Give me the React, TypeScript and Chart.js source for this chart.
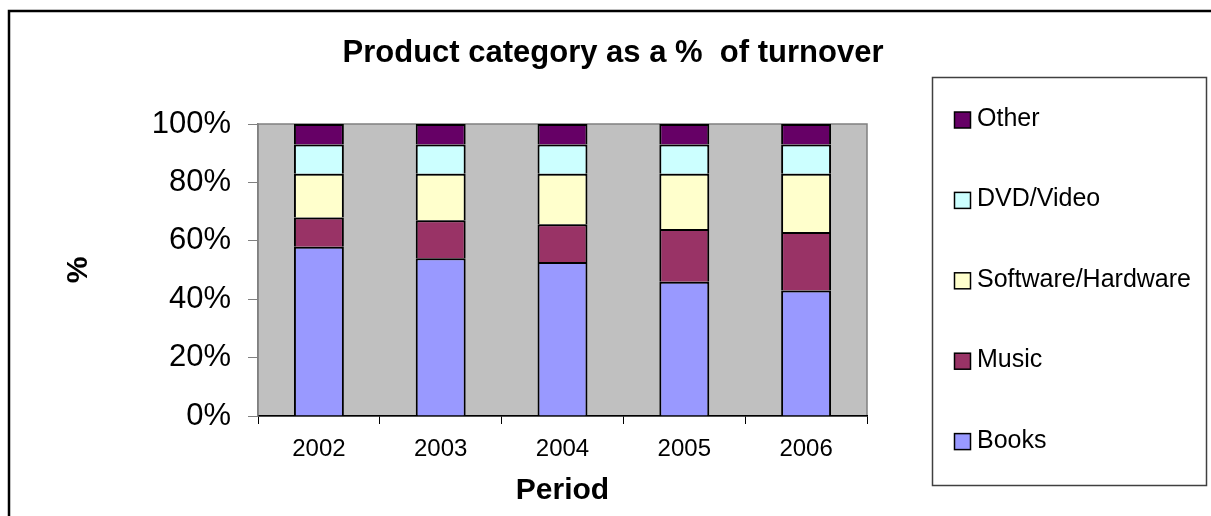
import React, { useEffect, useRef } from "react";
import { Chart, registerables } from "chart.js";

Chart.register(...registerables);

const categories = ["2002", "2003", "2004", "2005", "2006"];
const books = [58, 54, 52.7, 46, 43];
const music = [10, 13, 13, 18, 20];
const software = [15, 16, 17.3, 19, 20];
const dvd = [10, 10, 10, 10, 10];
const other = [7, 7, 7, 7, 7];
const yTicks = [0, 20, 40, 60, 80, 100];
const seriesNames = ["Books", "Music", "Software/Hardware", "DVD/Video", "Other"];
const seriesColors = ["#9999FF", "#993366", "#FFFFCC", "#CCFFFF", "#660066"];
const titleText = "Product category as a %  of turnover";
const xTitle = "Period";
const yTitle = "%";

const FONT = "'Liberation Sans', Arial, Helvetica, sans-serif";

const decorPlugin = {
  id: "decor",
  beforeDraw(chart: any) {
    const { ctx, chartArea } = chart;
    ctx.save();
    ctx.fillStyle = "#FFFFFF";
    ctx.fillRect(0, 0, chart.width, chart.height);
    // outer frame
    ctx.strokeStyle = "#000000";
    ctx.lineWidth = 2.5;
    ctx.strokeRect(9, 11, chart.width + 20, chart.height + 20);
    // plot area
    ctx.fillStyle = "#C0C0C0";
    ctx.fillRect(chartArea.left, chartArea.top, chartArea.right - chartArea.left, chartArea.bottom - chartArea.top);
    ctx.strokeStyle = "#808080";
    ctx.lineWidth = 1.5;
    ctx.strokeRect(chartArea.left, chartArea.top, chartArea.right - chartArea.left, chartArea.bottom - chartArea.top);
    ctx.restore();
  },
  afterDraw(chart: any) {
    const { ctx } = chart;
    ctx.save();
    // title
    ctx.fillStyle = "#000000";
    ctx.font = `bold 31px ${FONT}`;
    ctx.textAlign = "center";
    ctx.textBaseline = "middle";
    ctx.fillText(titleText, 613, 53);
    // legend box
    ctx.strokeStyle = "#404040";
    ctx.lineWidth = 1.5;
    ctx.strokeRect(932.5, 77.5, 274, 408);
    const ds = chart.data.datasets;
    ctx.font = `25px ${FONT}`;
    ctx.textAlign = "left";
    ctx.textBaseline = "alphabetic";
    for (let i = 0; i < ds.length; i++) {
      const d = ds[ds.length - 1 - i];
      const cy = 120 + i * 80.4;
      ctx.fillStyle = d.backgroundColor;
      ctx.fillRect(954.5, cy - 8, 16, 16);
      ctx.strokeStyle = "#000000";
      ctx.lineWidth = 1.5;
      ctx.strokeRect(954.5, cy - 8, 16, 16);
      ctx.fillStyle = "#000000";
      ctx.fillText(d.label, 977, cy + 6);
    }
    ctx.restore();
  },
};

export default function App() {
  const ref = useRef<HTMLCanvasElement | null>(null);

  useEffect(() => {
    if (!ref.current) return;
    const seriesData = [books, music, software, dvd, other];
    const chart = new Chart(ref.current, {
      type: "bar",
      data: {
        labels: categories,
        datasets: seriesData.map((d, i) => ({
          label: seriesNames[i],
          data: d,
          backgroundColor: seriesColors[i],
          borderColor: "#000000",
          borderWidth: 2,
          barPercentage: 0.41,
          categoryPercentage: 1,
        })),
      },
      options: {
        responsive: false,
        devicePixelRatio: 1,
        animation: false,
        layout: { padding: { top: 124, right: 344, left: 0, bottom: 0 } },
        plugins: {
          legend: { display: false },
          title: { display: false },
          tooltip: { enabled: false },
        },
        scales: {
          x: {
            stacked: true,
            grid: {
              display: true,
              drawOnChartArea: false,
              drawTicks: true,
              tickLength: 8,
              color: "#000000",
              offset: true,
            },
            border: { color: "#000000", width: 1.5 },
            ticks: { font: { family: FONT, size: 24 }, color: "#000000", padding: 11 },
            title: {
              display: true,
              text: xTitle,
              color: "#000000",
              font: { family: FONT, size: 30, weight: "bold" },
              padding: { top: 4, bottom: 7 },
            },
            afterFit: (s: any) => {
              s.height = 100;
            },
          },
          y: {
            stacked: true,
            min: 0,
            max: 100,
            afterBuildTicks: (s: any) => {
              s.ticks = yTicks.map((v) => ({ value: v }));
            },
            ticks: {
              font: { family: FONT, size: 31 },
              color: "#000000",
              padding: 17,
              callback: (v: any) => v + "%",
            },
            grid: {
              display: true,
              drawOnChartArea: false,
              drawTicks: true,
              tickLength: 10,
              color: "#808080",
            },
            border: { color: "#808080", width: 1.5 },
            title: {
              display: true,
              text: yTitle,
              color: "#000000",
              font: { family: FONT, size: 30, weight: "bold" },
              padding: { top: 61, bottom: 0 },
            },
            afterFit: (s: any) => {
              s.width = 258;
            },
          },
        },
      },
      plugins: [decorPlugin],
    } as any);
    return () => chart.destroy();
  }, []);

  return (
    <div style={{ position: "fixed", left: 0, top: 0, width: 1211, height: 516 }}>
      <canvas ref={ref} width={1211} height={516} style={{ display: "block" }} />
    </div>
  );
}
